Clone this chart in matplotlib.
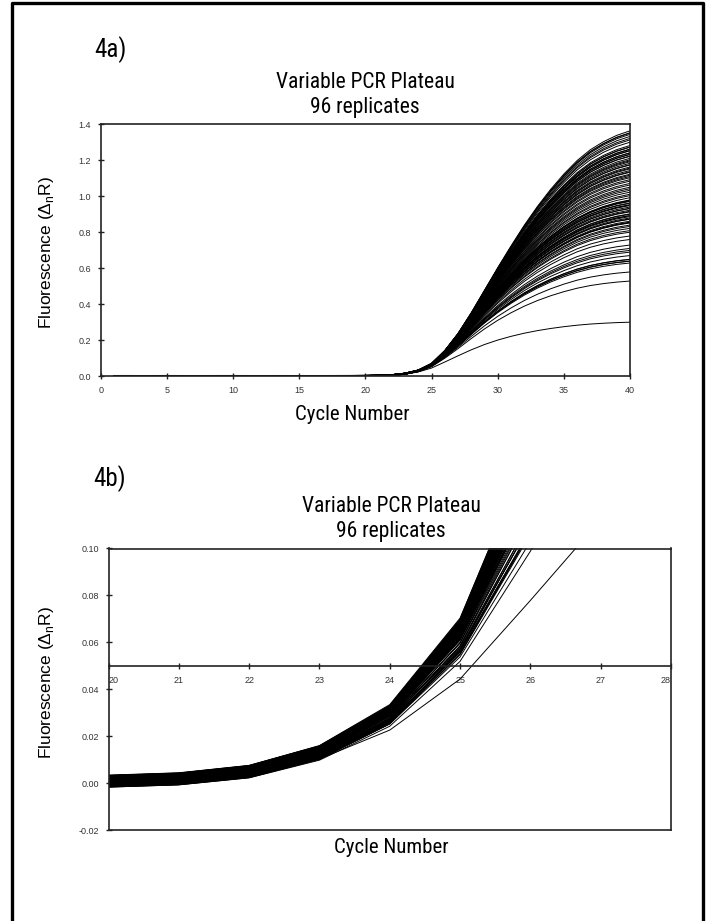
import numpy as np
import matplotlib.pyplot as plt
from matplotlib.lines import Line2D
from matplotlib import font_manager

# fonts: narrow sans for titles, regular sans for ticks
REG = 'Liberation Sans'


def pick_narrow():
    names = {f.name for f in font_manager.fontManager.ttflist}
    for fam in ['Liberation Sans Narrow', 'Arial Narrow', 'Roboto Condensed',
                'Open Sans Condensed', 'Noto Sans Condensed']:
        if fam in names:
            return {'family': fam}
    for fam in ['Roboto', 'Noto Sans', 'Open Sans', 'DejaVu Sans']:
        for f in font_manager.fontManager.ttflist:
            if f.name == fam and f.style == 'normal' and f.weight in (400, 'normal') \
                    and str(f.stretch) in ('condensed', 'semi-condensed'):
                return {'family': fam, 'stretch': f.stretch}
    return {'family': 'Liberation Sans'}


NARROW = pick_narrow()

cycles = np.arange(1, 41)

top_curve = [0.0003, 0.0004, 0.0002, 0.0003, 0.0004, 0.0003, 0.0002, 0.0003, 0.0004, 0.0004,
             0.0003, 0.0002, 0.0003, 0.0003, 0.0002, 0.0002, 0.0003, 0.0004, 0.0005, 0.0008,
             0.0018, 0.0050, 0.0135, 0.0310, 0.0680, 0.1400, 0.2350, 0.3500, 0.4750, 0.6000,
             0.7200, 0.8350, 0.9400, 1.0350, 1.1200, 1.1950, 1.2550, 1.3000, 1.3350, 1.3600]
top_plateau = 1.46

# value of each replicate at cycle 40
plateau_40 = [1.36, 1.35, 1.35, 1.34, 1.33, 1.32, 1.31, 1.30,
              1.28, 1.27, 1.27, 1.26, 1.26, 1.25, 1.25, 1.24, 1.24, 1.23, 1.23, 1.22, 1.22, 1.21,
              1.20, 1.195, 1.19, 1.18, 1.175, 1.17, 1.16, 1.155, 1.15, 1.14, 1.135, 1.13, 1.12,
              1.115, 1.11, 1.10, 1.09, 1.08, 1.07, 1.06, 1.05, 1.04, 1.03, 1.02, 1.01, 1.00, 0.99,
              0.98, 0.975, 0.97, 0.97, 0.96, 0.96, 0.95, 0.95, 0.945, 0.94, 0.93, 0.93, 0.92,
              0.915, 0.91, 0.90, 0.90, 0.89, 0.89, 0.885, 0.88, 0.87, 0.87, 0.86, 0.855, 0.85,
              0.85, 0.84, 0.83, 0.82, 0.81,
              0.80, 0.78, 0.76, 0.73, 0.71, 0.70, 0.69, 0.67, 0.65, 0.65, 0.64, 0.64, 0.63,
              0.58, 0.53, 0.30]

# baseline of each replicate (x 0.001), from the spread at cycles 20-23
baseline_shift = [2.0, 1.5, -0.5, 2.5, 1.0, 0.0, 1.8, -1.0, 0.5, 2.2, 1.2, -0.8,
                  0.8, 2.4, 1.6, 0.2, -0.3, 1.9, 1.1, 0.6, 2.1, -0.6, 1.4, 0.9,
                  0.3, 1.7, -1.2, 2.3, 1.3, 0.1, 0.7, 1.5, -0.4, 2.0, 1.0, 0.4,
                  -1.5, 1.8, 0.9, 2.6, 0.0, 1.2, -0.9, 0.6, 1.9, 1.4, -0.2, 2.2,
                  0.8, -1.8, 1.1, 0.3, 2.4, 1.6, -0.7, 0.5, 1.3, 2.0, -1.1, 0.2,
                  1.7, 0.9, -0.1, 2.1, 1.0, -1.4, 0.4, 1.5, 0.7, -2.0, 1.2, 2.3,
                  0.0, -0.5, 1.8, 0.6, -1.6, 1.1, 0.3, -2.2,
                  -1.0, -2.0, -1.5, -2.4, -1.2, -2.2, -1.8, -0.8, -2.5, -1.6,
                  -2.1, -1.4, -2.3, -2.0, -2.5, -1.0]

soft = 0.55  # sharpness of the approach to plateau

top = np.array(top_curve)
drive = top ** -soft - top_plateau ** -soft
p40 = np.array(plateau_40)
asym = (p40 ** -soft - drive[-1]) ** (-1 / soft)
curves = (drive[None, :] + asym[:, None] ** -soft) ** (-1 / soft) \
    + np.array(baseline_shift)[:, None] * 0.001

fig = plt.figure(figsize=(7.07, 9.21), dpi=100)
fig.add_artist(Line2D([12 / 707, 12 / 707, 703 / 707, 703 / 707],
                      [0, 1 - 3 / 921, 1 - 3 / 921, 0],
                      transform=fig.transFigure, color='k', lw=2.4))


def style(ax):
    for s in ax.spines.values():
        s.set_color('#222222')
        s.set_linewidth(1.2)
    ax.tick_params(direction='inout', length=4, width=1, colors='#222222',
                   labelsize=6.5, pad=5)
    for lab in ax.get_xticklabels() + ax.get_yticklabels():
        lab.set_family(REG)
        lab.set_color('#333333')


# ---- 4a
ax1 = fig.add_axes([101 / 707, 1 - 376 / 921, 529 / 707, 252 / 921])
for c in curves:
    ax1.plot(cycles, c, color='k', lw=0.7)
ax1.set_xlim(0, 40)
ax1.set_ylim(0, 1.4)
ax1.set_xticks(range(0, 41, 5))
ax1.set_yticks(np.arange(0, 1.41, 0.2))
ax1.set_yticklabels(['%.1f' % v for v in np.arange(0, 1.41, 0.2)])
style(ax1)

# ---- 4b
ax2 = fig.add_axes([108.5 / 707, 1 - 830 / 921, 562.5 / 707, 281.5 / 921])
for c in curves:
    ax2.plot(cycles, c, color='k', lw=0.7)
ax2.set_xlim(20, 28)
ax2.set_ylim(-0.02, 0.10)
ax2.set_xticks(range(20, 29))
ax2.set_yticks(np.arange(-0.02, 0.101, 0.02))
ax2.set_yticklabels(['%.2f' % v for v in np.arange(-0.02, 0.101, 0.02)])
ax2.spines['bottom'].set_position(('data', 0.05))
ax2.axhline(-0.02, color='#222222', lw=1.2, clip_on=False)
style(ax2)
xl = ax2.get_xticklabels()
xl[0].set_ha('left')
xl[-1].set_ha('right')

# ---- texts
for y0, lab in [(50, '4a)'), (479, '4b)')]:
    fig.text(110 / 707, 1 - y0 / 921, lab, fontsize=18,
             ha='center', va='center', **NARROW)
for xc, y1, y2 in [(365, 82, 107), (391, 507, 531)]:
    fig.text(xc / 707, 1 - y1 / 921, 'Variable PCR Plateau',
             fontsize=15.5, ha='center', va='center', **NARROW)
    fig.text(xc / 707, 1 - y2 / 921, '96 replicates',
             fontsize=15.5, ha='center', va='center', **NARROW)
for xc, yc in [(352, 414), (391, 847)]:
    fig.text(xc / 707, 1 - yc / 921, 'Cycle Number',
             fontsize=15, ha='center', va='center', **NARROW)
for yc in [252, 682]:
    fig.text(47 / 707, 1 - yc / 921, 'Fluorescence (\u0394$_\\mathregular{n}$R)',
             family=REG, fontsize=12.5, rotation=90, ha='center', va='center')

fig.savefig('out.png', dpi=100)
